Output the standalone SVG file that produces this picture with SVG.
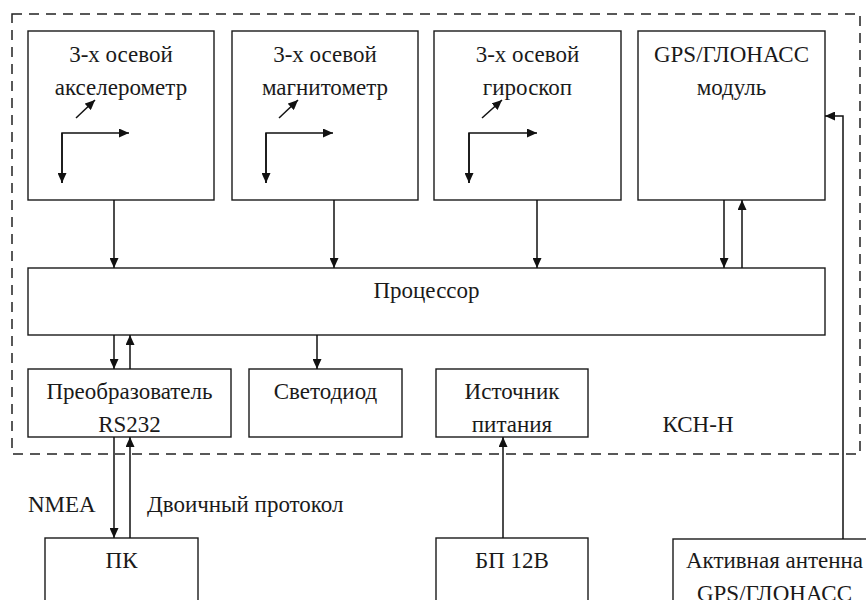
<svg xmlns="http://www.w3.org/2000/svg" width="866" height="600" viewBox="0 0 866 600">
<defs>
<marker id="ah" markerUnits="userSpaceOnUse" markerWidth="11" markerHeight="9" refX="10" refY="4.5" orient="auto">
<path d="M0,0 L10,4.5 L0,9 z" fill="#111"/>
</marker>
<style>
.box{fill:#fff;stroke:#1a1a1a;stroke-width:1.4}
.ln{fill:none;stroke:#111;stroke-width:1.5;marker-end:url(#ah)}
.t{font-family:"Liberation Serif","Times New Roman",serif;font-size:23px;fill:#1a1a1a;text-anchor:middle}
.ts{font-family:"Liberation Serif","Times New Roman",serif;font-size:23px;fill:#1a1a1a}
</style>
</defs>
<rect width="866" height="600" fill="#fff"/>
<rect id="ksn" x="12" y="14" width="848" height="440" fill="none" stroke="#222" stroke-width="1.5" stroke-dasharray="10,7"/>
<g id="accel">
<rect class="box" x="28" y="31" width="186" height="169"/>
<text class="t" x="121" y="62">3-х осевой</text>
<text class="t" x="121" y="95">акселерометр</text>
<path class="ln" d="M76,118 L95,100"/>
<path class="ln" d="M62,183 L62,133 L129,133"/>
<path class="ln" d="M62,133 L62,183"/>
</g>
<g id="mag">
<rect class="box" x="232" y="31" width="186" height="169"/>
<text class="t" x="325" y="62">3-х осевой</text>
<text class="t" x="325" y="95">магнитометр</text>
<path class="ln" d="M279,118 L298,100"/>
<path class="ln" d="M266,183 L266,133 L333,133"/>
<path class="ln" d="M266,133 L266,183"/>
</g>
<g id="gyro">
<rect class="box" x="434" y="31" width="187" height="169"/>
<text class="t" x="527.5" y="62">3-х осевой</text>
<text class="t" x="527.5" y="95">гироскоп</text>
<path class="ln" d="M482,118 L502,100"/>
<path class="ln" d="M469,183 L469,133 L537,133"/>
<path class="ln" d="M469,133 L469,183"/>
</g>
<g id="gps">
<rect class="box" x="638" y="31" width="187" height="169"/>
<text class="t" x="731.5" y="62">GPS/ГЛОНАСС</text>
<text class="t" x="731.5" y="95">модуль</text>
</g>
<g id="proc">
<rect class="box" x="28" y="268" width="797" height="67"/>
<text class="t" x="426.5" y="298">Процессор</text>
</g>
<g id="rs232">
<rect class="box" x="28" y="369" width="203" height="68"/>
<text class="t" x="129.5" y="399">Преобразователь</text>
<text class="t" x="129.5" y="432">RS232</text>
</g>
<g id="led">
<rect class="box" x="249" y="369" width="153" height="68"/>
<text class="t" x="325.5" y="399">Светодиод</text>
</g>
<g id="psu">
<rect class="box" x="436" y="369" width="152" height="68"/>
<text class="t" x="512" y="399">Источник</text>
<text class="t" x="512" y="432">питания</text>
</g>
<g id="ksn-label">
<text class="t" x="698" y="432">КСН-Н</text>
</g>
<g id="pc">
<rect class="box" x="45" y="538" width="153" height="80"/>
<text class="t" x="121.5" y="568">ПК</text>
</g>
<g id="bp">
<rect class="box" x="436" y="538" width="152" height="80"/>
<text class="t" x="512" y="568">БП 12В</text>
</g>
<g id="antenna">
<rect class="box" x="673" y="539" width="203" height="80"/>
<text class="t" x="774.5" y="568">Активная антенна</text>
<text class="t" x="774.5" y="601">GPS/ГЛОНАСС</text>
</g>
<g id="connectors">
<path class="ln" d="M114,200 L114,268"/>
<path class="ln" d="M334,200 L334,268"/>
<path class="ln" d="M537,200 L537,268"/>
<path class="ln" d="M724,200 L724,268"/>
<path class="ln" d="M742,268 L742,200"/>
<path class="ln" d="M114,335 L114,369"/>
<path class="ln" d="M130,369 L130,335"/>
<path class="ln" d="M317,335 L317,369"/>
<path class="ln" d="M114,437 L114,538"/>
<path class="ln" d="M130,538 L130,437"/>
<path class="ln" d="M503,538 L503,437"/>
<path class="ln" d="M843,539 L843,116 L825,116"/>
<text class="ts" x="28" y="512">NMEA</text>
<text class="ts" x="147" y="512">Двоичный протокол</text>
</g>
</svg>
